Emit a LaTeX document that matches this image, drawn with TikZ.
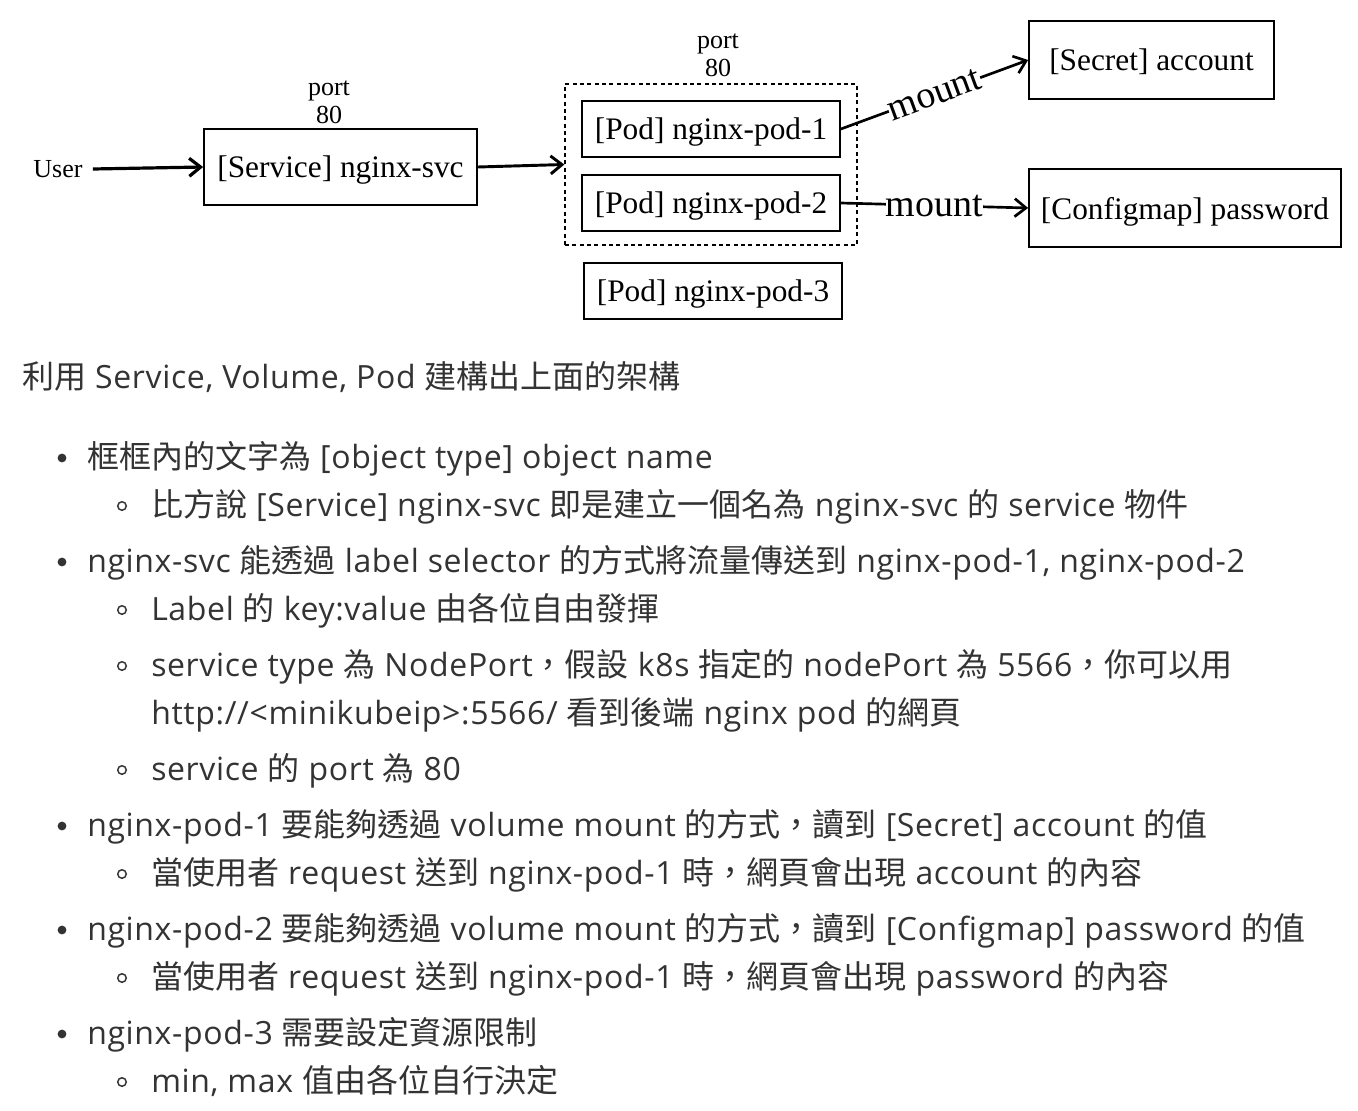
\documentclass[tikz,border=0pt]{standalone}
\usepackage{fontspec}
\setmainfont[LetterSpace=2]{Open Sans}
\newfontfamily\cjk{Noto Sans CJK TC}
\newfontfamily\diag{Liberation Serif}
\usetikzlibrary{arrows.meta,calc}
\newcommand\zh[1]{{\cjk #1}}
\definecolor{txt}{HTML}{333333}
\begin{document}
\begin{tikzpicture}[x=0.75pt,y=-0.75pt,
  box/.style={draw,line width=1.3pt,inner sep=0pt,text depth=0pt,font=\diag\fontsize{23.5}{28}\selectfont},
  small/.style={inner sep=0pt,align=center,font=\diag\fontsize{19.5}{21}\selectfont},
  arr/.style={line width=2pt,-{Straight Barb[length=8.5pt,width=13.5pt]}},
  mlabel/.style={fill=white,inner sep=0pt,font=\diag\fontsize{28.5}{30}\selectfont},
  body/.style={anchor=base west,inner sep=0pt,text=txt,font=\fontsize{24}{29}\selectfont},
  dot/.style={fill=txt},
  ring/.style={draw=txt,line width=1.1pt}
]
\useasboundingbox (0,0) rectangle (1358,1110);
\fill[white] (0,0) rectangle (1358,1110);

% diagram
\node[small] (user) at (58,169) {User};
\node[box,minimum width=204.75pt,minimum height=57pt] (svc) at (340.5,167) {[Service] nginx-svc};
\node[small] (port1) at (329,102) {port\\80};
\node[draw,dashed,line width=1pt,dash pattern=on 3pt off 2.5pt,minimum width=219pt,minimum height=120.75pt,inner sep=0pt] (grp) at (711,164.5) {};
\node[small] (port2) at (718,55) {port\\80};
\node[box,minimum width=193.5pt,minimum height=42pt] (pod1) at (711,129) {[Pod] nginx-pod-1};
\node[box,minimum width=193.5pt,minimum height=42pt] (pod2) at (711,203) {[Pod] nginx-pod-2};
\node[box,minimum width=193.5pt,minimum height=42pt] (pod3) at (713,291) {[Pod] nginx-pod-3};
\node[box,minimum width=183.75pt,minimum height=58.5pt] (sec) at (1151.5,60) {[Secret] account};
\node[box,minimum width=234pt,minimum height=58.5pt] (cfg) at (1185,208) {[Configmap] password};

\coordinate (ustart) at ($(user.east)+(7.5pt,0)$);
\draw[arr,line width=2.4pt] (ustart) -- (svc.west);
\draw[arr,line width=2.2pt] (svc.east) -- (grp.west);
\draw[arr] (pod1.east) -- node[mlabel,sloped] (m1) {mount} (sec.west);
\draw[arr] (pod2.east) -- node[mlabel] (m2) {mount} (cfg.west);

% text
\node[body] (l0) at (22,388) {\zh{利用} Service, Volume, Pod \zh{建構出上面的架構}};

\fill[dot] (62,458) circle (3.3pt);
\node[body] (l1) at (87,468) {\zh{框框內的文字為} [object type] object name};
\draw[ring] (122,506) circle (3.2pt);
\node[body] (l2) at (151,516) {\zh{比方說} [Service] nginx-svc \zh{即是建立一個名為} nginx-svc \zh{的} service \zh{物件}};

\fill[dot] (62,562) circle (3.3pt);
\node[body] (l3) at (87,572) {nginx-svc \zh{能透過} label selector \zh{的方式將流量傳送到} nginx-pod-1, nginx-pod-2};
\draw[ring] (122,610) circle (3.2pt);
\node[body] (l4) at (151,620) {Label \zh{的} key:value \zh{由各位自由發揮}};
\draw[ring] (122,666) circle (3.2pt);
\node[body] (l5) at (151,676) {service type \zh{為} NodePort\zh{，假設} k8s \zh{指定的} nodePort \zh{為} 5566\zh{，你可以用}};
\node[body] (l6) at (151,724) {http://<minikubeip>:5566/ \zh{看到後端} nginx pod \zh{的網頁}};
\draw[ring] (122,770) circle (3.2pt);
\node[body] (l7) at (151,780) {service \zh{的} port \zh{為} 80};

\fill[dot] (62,826) circle (3.3pt);
\node[body] (l8) at (87,836) {nginx-pod-1 \zh{要能夠透過} volume mount \zh{的方式，讀到} [Secret] account \zh{的值}};
\draw[ring] (122,874) circle (3.2pt);
\node[body] (l9) at (151,884) {\zh{當使用者} request \zh{送到} nginx-pod-1 \zh{時，網頁會出現} account \zh{的內容}};

\fill[dot] (62,930) circle (3.3pt);
\node[body] (l10) at (87,940) {nginx-pod-2 \zh{要能夠透過} volume mount \zh{的方式，讀到} [Configmap] password \zh{的值}};
\draw[ring] (122,978) circle (3.2pt);
\node[body] (l11) at (151,988) {\zh{當使用者} request \zh{送到} nginx-pod-1 \zh{時，網頁會出現} password \zh{的內容}};

\fill[dot] (62,1034) circle (3.3pt);
\node[body] (l12) at (87,1044) {nginx-pod-3 \zh{需要設定資源限制}};
\draw[ring] (122,1082) circle (3.2pt);
\node[body] (l13) at (151,1092) {min, max \zh{值由各位自行決定}};
\end{tikzpicture}
\end{document}
